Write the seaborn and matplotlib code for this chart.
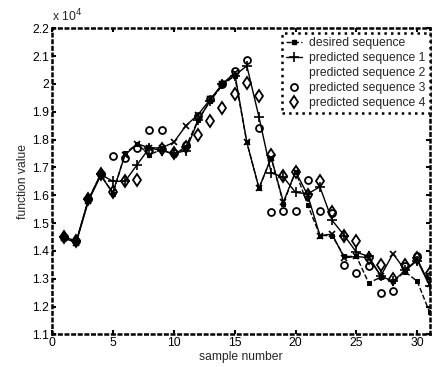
import matplotlib
matplotlib.use("Agg")
import matplotlib.pyplot as plt
from matplotlib.lines import Line2D
import numpy as np
import pandas as pd
import seaborn as sns

# sample index
samples = list(range(1, 32))

# function values (x 10^4)
desired = [1.450, 1.435, 1.585, 1.675, 1.605, 1.750, 1.785, 1.745, 1.765, 1.745,
           1.775, 1.870, 1.940, 1.995, 2.030, 1.790, 1.625, 1.735, 1.570, 1.685,
           1.565, 1.455, 1.455, 1.380, 1.380, 1.285, 1.305, 1.290, 1.325, 1.290,
           1.180]
pred1 = [1.450, 1.435, 1.585, 1.675, 1.650, 1.650, 1.710, 1.770, 1.760, 1.750,
         1.760, 1.870, 1.940, 2.000, 2.030, 2.065, 1.880, 1.680, 1.665, 1.610,
         1.605, 1.630, 1.510, 1.455, 1.395, 1.380, 1.310, 1.290, 1.330, 1.365,
         1.275]
pred2 = [1.445, 1.430, 1.580, 1.670, 1.610, 1.745, 1.785, 1.770, 1.770, 1.790,
         1.850, 1.890, 1.945, 2.000, 2.040, 1.790, 1.625, 1.735, 1.575, 1.685,
         1.600, 1.455, 1.460, 1.375, 1.380, 1.375, 1.310, 1.390, 1.330, 1.370,
         1.280]
pred3 = [1.450, 1.435, 1.585, 1.675, 1.740, 1.735, 1.770, 1.835, 1.835, 1.750,
         1.780, 1.885, 1.945, 2.000, 2.045, 2.085, 1.840, 1.540, 1.545, 1.545,
         1.655, 1.545, 1.535, 1.350, 1.320, 1.345, 1.250, 1.255, 1.345, 1.380,
         1.310]
pred4 = [1.450, 1.435, 1.585, 1.675, 1.610, 1.650, 1.655, 1.760, 1.765, 1.750,
         1.775, 1.815, 1.865, 1.915, 1.965, 2.005, 1.955, 1.745, 1.670, 1.685,
         1.600, 1.650, 1.540, 1.455, 1.435, 1.375, 1.350, 1.300, 1.350, 1.375,
         1.320]

series_names = ["desired sequence", "predicted sequence 1", "predicted sequence 2",
                "predicted sequence 3", "predicted sequence 4"]

x_ticks = [0, 5, 10, 15, 20, 25, 30]
y_tick_labels = ["1.1", "1.2", "1.3", "1.4", "1.5", "1.6", "1.7", "1.8", "1.9",
                 "2", "2.1", "2.2"]

scale = 1e4
df = pd.DataFrame({
    "sample": samples,
    "desired": np.array(desired) * scale,
    "pred1": np.array(pred1) * scale,
    "pred2": np.array(pred2) * scale,
    "pred3": np.array(pred3) * scale,
    "pred4": np.array(pred4) * scale,
})

sns.set_style("ticks")
plt.rcParams["font.family"] = ["Liberation Sans", "DejaVu Sans"]
plt.rcParams["font.size"] = 8.7

fig = plt.figure(figsize=(4.33, 3.67), dpi=100)
ax = fig.add_axes([0.120, 0.089, 0.872, 0.834])

k = "black"
sns.lineplot(data=df, x="sample", y="desired", ax=ax, color=k, linestyle="--",
             linewidth=1.0, marker="s", markersize=3, markeredgecolor=k)
sns.lineplot(data=df, x="sample", y="pred2", ax=ax, color=k, linestyle="-",
             linewidth=1.0, marker="x", markersize=5, markeredgewidth=1.2,
             markeredgecolor=k)
sns.lineplot(data=df, x="sample", y="pred1", ax=ax, color=k, linestyle="-",
             linewidth=1.0, marker="+", markersize=7, markeredgewidth=1.2,
             markeredgecolor=k)
sns.lineplot(data=df, x="sample", y="pred3", ax=ax, color=k, linestyle="none",
             marker="o", markersize=5, markerfacecolor="none",
             markeredgecolor=k, markeredgewidth=1.3)
sns.lineplot(data=df, x="sample", y="pred4", ax=ax, color=k, linestyle="none",
             marker="d", markersize=6, markerfacecolor="none",
             markeredgecolor=k, markeredgewidth=1.3)

ax.set_xlim(0, 31)
ax.set_ylim(1.1 * scale, 2.2 * scale)
ax.set_xticks(x_ticks)
ax.set_yticks([float(v) * scale for v in y_tick_labels])
ax.set_yticklabels(y_tick_labels)
ax.set_xlabel("sample number", labelpad=1)
ax.set_ylabel("function value", labelpad=2)
ax.text(0.0, 1.012, r"x 10$^4$", transform=ax.transAxes, ha="left", va="bottom",
        fontsize=8.7)

for sp in ax.spines.values():
    sp.set_linestyle(":")
    sp.set_linewidth(1.8)
    sp.set_color(k)
ax.tick_params(direction="in", length=3, width=1.5, top=True, right=True,
               colors=k, labelsize=8.7, pad=2)

handles = [
    Line2D([], [], color=k, linestyle="--", linewidth=1.0, marker="s", markersize=3),
    Line2D([], [], color=k, linestyle="-", linewidth=1.0, marker="+", markersize=7,
           markeredgewidth=1.2),
    Line2D([], [], linestyle="none"),
    Line2D([], [], color=k, linestyle="none", marker="o", markersize=5,
           markerfacecolor="none", markeredgewidth=1.3),
    Line2D([], [], color=k, linestyle="none", marker="d", markersize=6,
           markerfacecolor="none", markeredgewidth=1.3),
]
leg = ax.legend(handles, series_names, loc="upper right", bbox_to_anchor=(1.0, 0.985),
                fontsize=8.7, handlelength=1.3, handletextpad=0.6, labelspacing=0.25,
                borderpad=0.35, borderaxespad=0.0, fancybox=False, framealpha=1.0)
frame = leg.get_frame()
frame.set_edgecolor(k)
frame.set_linestyle(":")
frame.set_linewidth(1.8)

fig.savefig("out.png", dpi=100)
